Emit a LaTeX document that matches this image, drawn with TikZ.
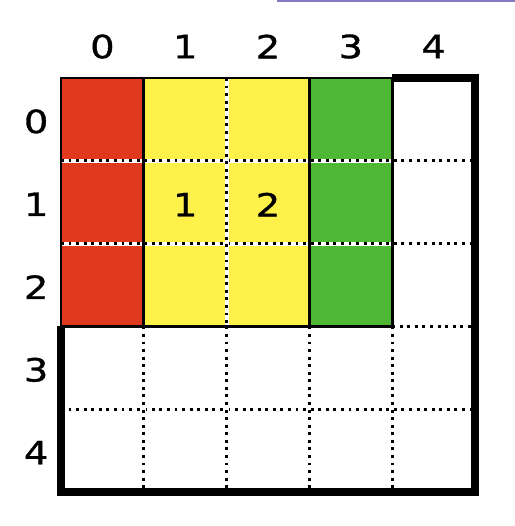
\documentclass[tikz,border=0pt]{standalone}
\usepackage{fontspec}
\setmainfont{DejaVu Sans}
\newfontfamily\chiffres[FakeStretch=1.2,FakeBold=1]{DejaVu Sans}
\definecolor{rouge}{RGB}{224,58,30}
\definecolor{jaune}{RGB}{253,241,74}
\definecolor{vert}{RGB}{78,184,52}
\definecolor{violet}{RGB}{132,122,192}
\tikzset{
	pointille/.style={line width=1pt, dash pattern=on 1pt off 1.6pt, preaction={draw=white,solid,line width=1.4pt}},
	bloc/.style={draw=black,line width=1pt},
	chiffre/.style={font=\chiffres\fontsize{11}{13}\selectfont, inner sep=0pt}
}
\begin{document}
\begin{tikzpicture}[x=1cm,y=1cm]%grille 5x5
		
		\useasboundingbox (-0.737,-5.411) rectangle (5.483,0.942);
		\fill[violet] (2.609,0.912) rectangle (5.483,0.942);
		
		\fill[rouge] (0,0) rectangle (1,-3);
		\fill[jaune] (1,0) rectangle (3,-3);
		\fill[vert] (3,0) rectangle (4,-3);
		
		\foreach \k in {1,2} {
			\draw[pointille] (0,-\k) -- (5,-\k);}
		\draw[pointille] (2,0) -- (2,-3);
		\draw[pointille] (4,-3) -- (5,-3);
		\draw[pointille] (0,-4) -- (5,-4);
		\foreach \k in {1,...,4} {
			\draw[pointille] (\k,-3) -- (\k,-5);}
		
		\draw[bloc] (0,0) rectangle (1,-3);
		\draw[bloc] (1,0) rectangle (3,-3);
		\draw[bloc] (3,0) rectangle (4,-3);
		\draw[line width=2.7pt] (4,0) -- (5,0) -- (5,-5) -- (0,-5) -- (0,-3);
		
		\foreach \k in {0,...,4} {
			\node[chiffre] (col\k) at (\k+0.5,0.38) {\k};
			\node[chiffre] (lig\k) at (-0.3,-\k-0.525) {\k};}
		\node[chiffre] (un) at (1.5,-1.53) {1};
		\node[chiffre] (deux) at (2.5,-1.53) {2};
	\end{tikzpicture}
\end{document}
